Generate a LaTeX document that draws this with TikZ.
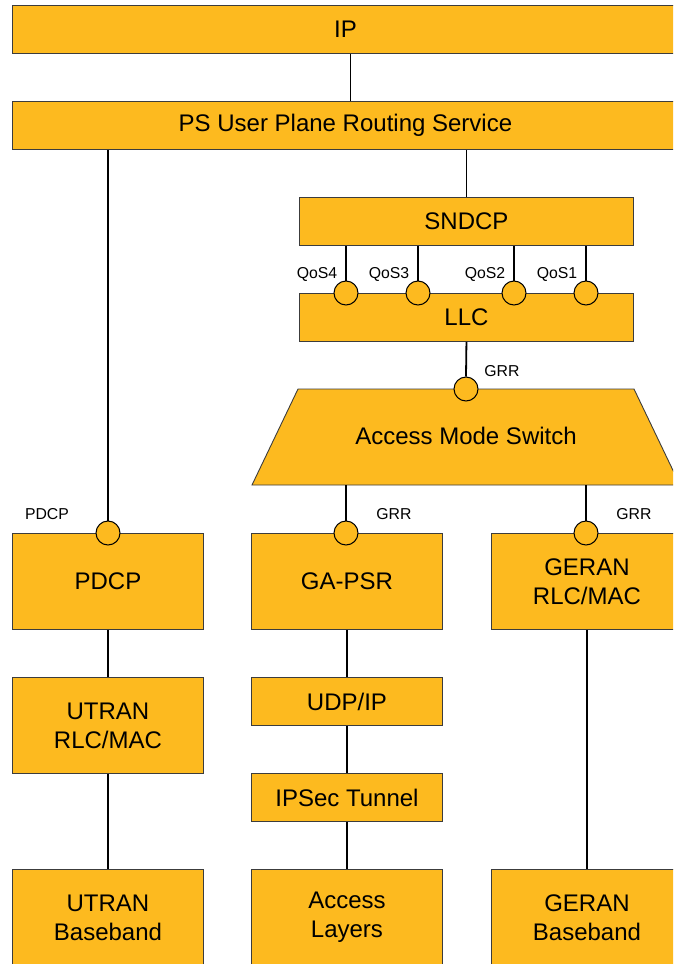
\documentclass[tikz,border=0pt]{standalone}
\usepackage{fontspec}
\setmainfont{Liberation Sans}
\usetikzlibrary{positioning}
\definecolor{layerorange}{HTML}{FDBA1F}
\definecolor{layerline}{HTML}{3C3C3C}

\begin{document}
\begin{tikzpicture}[x=1pt,y=-1pt,
  layer/.style={draw=layerline,line width=0.9pt,fill=layerorange,anchor=north west,inner sep=0pt,align=center,font=\fontsize{24}{29}\selectfont},
  wide/.style={layer,minimum width=666pt,minimum height=48pt},
  half/.style={layer,minimum width=334pt,minimum height=48pt},
  tall/.style={layer,minimum width=191pt,minimum height=96pt},
  flat/.style={layer,minimum width=191pt,minimum height=48pt},
  sap/.style={circle,draw=black,line width=1pt,fill=layerorange,minimum size=24pt,inner sep=0pt},
  tag/.style={font=\fontsize{15.8}{18}\selectfont,inner sep=0pt},
  link/.style={line width=1.8pt}]
  \useasboundingbox (0,0) rectangle (673,964);
  \clip (0,0) rectangle (673,964);
  % top layers
  \node[wide] (ip) at (12,5) {IP};
  \node[wide] (psr) at (12,101) {PS User Plane Routing Service};
  \node[half] (sndcp) at (299,197) {SNDCP};
  \node[half] (llc) at (299,293) {LLC};
  % access mode switch
  \draw[draw=layerline,line width=0.9pt,fill=layerorange] (298,389) -- (634,389) -- (680,485) -- (252,485) -- cycle;
  \node[font=\fontsize{24}{29}\selectfont] (ams) at (466,436) {Access Mode Switch};
  \coordinate (amsl) at (346,485);
  \coordinate (amsr) at (586,485);
  % lower stacks
  \node[tall] (pdcp) at (12,533) {PDCP};
  \node[tall] (gapsr) at (251,533) {GA-PSR};
  \node[tall] (geran) at (491,533) {GERAN\\RLC/MAC};
  \node[tall] (utran) at (12,677) {UTRAN\\RLC/MAC};
  \node[flat] (udp) at (251,677) {UDP/IP};
  \node[flat] (ipsec) at (251,773) {IPSec Tunnel};
  \node[tall] (utranbb) at (12,869) {UTRAN\\Baseband};
  \node[tall] (access) at (251,869) {Access\\Layers};
  \node[tall] (geranbb) at (491,869) {GERAN\\Baseband};
  % service access points
  \node[sap] (s-llc) at (466,389) {};
  \node[sap] (s-pdcp) at (108,533) {};
  \node[sap] (s-gapsr) at (346,533) {};
  \node[sap] (s-geran) at (586,533) {};
  \foreach \x/\n in {346/4,418/3,514/2,586/1}{
    \node[sap] (q\n) at (\x,293) {};
    \draw[link] (q\n.north) -- (q\n |- sndcp.south);
    \node[tag] (t-q\n) at (\x-29,274) {QoS\n};
  }
  % labels
  \node[tag] (t-pdcp) at (47,514) {PDCP};
  \node[tag] (t-llc) at (502,371) {GRR};
  \node[tag] (t-gapsr) at (394,514) {GRR};
  \node[tag] (t-geran) at (634,514) {GRR};
  % connectors
  \draw[link] ([xshift=5pt]ip.south) -- ([xshift=5pt]psr.north);
  \draw[link] (s-pdcp.north) -- (s-pdcp |- psr.south);
  \draw[link] (sndcp.north) -- (sndcp.north |- psr.south);
  \draw[link] (llc.south) -- (s-llc.north);
  \draw[link] (amsl) -- (s-gapsr.north);
  \draw[link] (amsr) -- (s-geran.north);
  \draw[link] (pdcp.south) -- (utran.north);
  \draw[link] (utran.south) -- (utranbb.north);
  \draw[link] (gapsr.south) -- (udp.north);
  \draw[link] (udp.south) -- (ipsec.north);
  \draw[link] (ipsec.south) -- (access.north);
  \draw[link] (geran.south) -- (geranbb.north);
\end{tikzpicture}
\end{document}
